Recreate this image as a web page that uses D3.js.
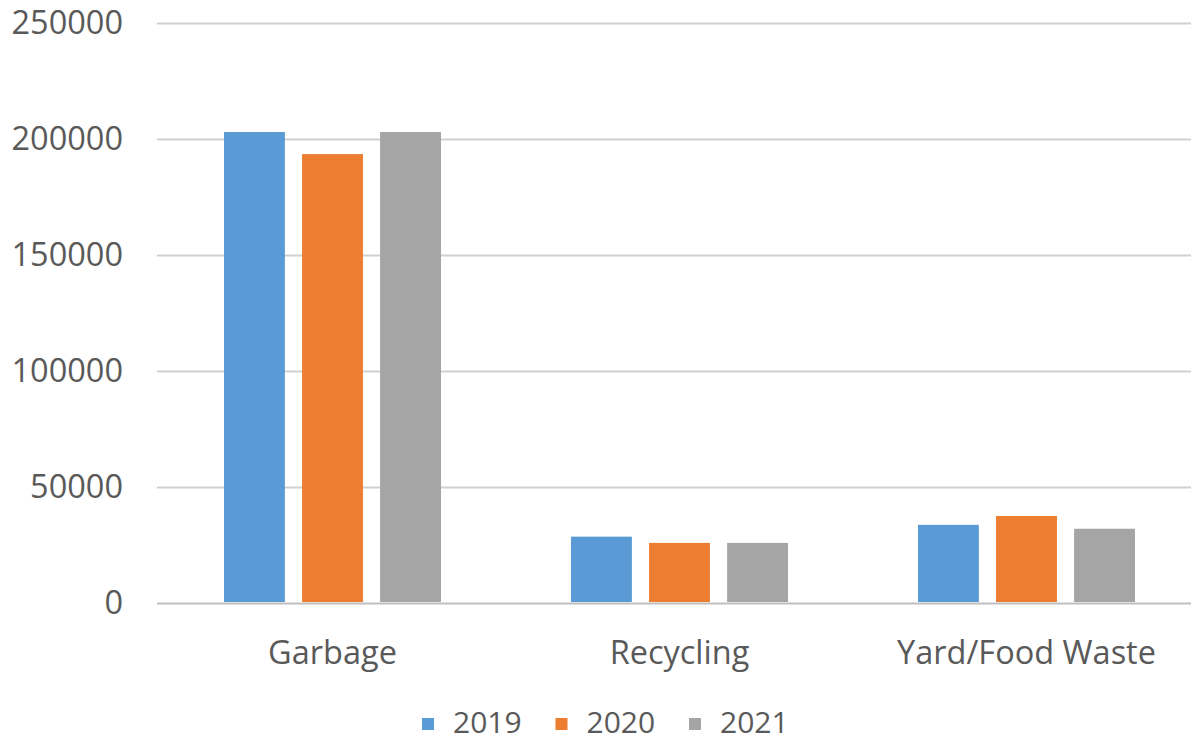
<!DOCTYPE html>
<html>
<head>
<meta charset="utf-8">
<script src="https://cdn.jsdelivr.net/npm/d3@7"></script>
<style>
  body { margin: 0; background: #fff; }
  text { font-family: "Open Sans", sans-serif; fill: #595959; }
</style>
</head>
<body>
<svg></svg>
<script>
const width = 1191,
      height = 743;

// Data
const categories = ["Garbage", "Recycling", "Yard/Food Waste"];
const years = ["2019", "2020", "2021"];
const values2019 = [203000, 28600, 33700];
const values2020 = [193500, 25900, 37500];
const values2021 = [203000, 25900, 32000];
const yTicks = [0, 50000, 100000, 150000, 200000, 250000];
const colors = ["#5B9BD5", "#ED7D31", "#A5A5A5"];

const series = [values2019, values2020, values2021];

const svg = d3.select("svg")
              .attr("width", width)
              .attr("height", height);

// Outer x scale (categories)
const x0 = d3.scaleBand()
             .domain(categories)
             .range([159, 1200])
             .paddingInner(0)
             .paddingOuter(0);

// Inner x scale (years inside a category)
const x1 = d3.scaleBand()
             .domain(years)
             .range([65, x0.bandwidth() - 65])
             .paddingInner(0.22)
             .paddingOuter(0);

const y = d3.scaleLinear()
            .domain([0, 250000])
            .range([603, 23]);

// Gridlines
svg.append("g")
   .attr("class", "grid")
   .attr("transform", "translate(157,0)")
   .call(d3.axisLeft(y).tickValues(yTicks).tickSize(-(width - 157)).tickFormat(""))
   .call(g => g.select(".domain").remove())
   .call(g => g.selectAll("line")
               .attr("stroke", d => d === 0 ? "#BFBFBF" : "#D0D0D0")
               .attr("stroke-width", 2));

// Y axis labels
svg.append("g")
   .attr("transform", "translate(123,0)")
   .call(d3.axisLeft(y).tickValues(yTicks).tickSize(0).tickPadding(0).tickFormat(d3.format("d")))
   .call(g => g.select(".domain").remove())
   .call(g => g.selectAll("text")
               .attr("font-size", 32.5)
               .style("font-family", "'Open Sans', sans-serif")
               .attr("fill", "#595959"));

// Bars
const groups = svg.append("g")
   .selectAll("g")
   .data(categories)
   .join("g")
   .attr("transform", d => "translate(" + x0(d) + ",0)");

groups.selectAll("rect")
   .data((d, i) => years.map((yr, j) => ({year: yr, value: series[j][i], color: colors[j]})))
   .join("rect")
   .attr("x", d => x1(d.year))
   .attr("width", x1.bandwidth())
   .attr("y", d => y(d.value))
   .attr("height", d => y(0) - y(d.value) - 1)
   .attr("fill", d => d.color);

// Category labels
svg.append("g")
   .attr("transform", "translate(0,603)")
   .call(d3.axisBottom(x0).tickSize(0).tickPadding(0))
   .call(g => g.select(".domain").remove())
   .call(g => g.selectAll("text")
               .attr("dy", null)
               .attr("y", 61)
               .attr("font-size", 32.5)
               .style("font-family", "'Open Sans', sans-serif")
               .attr("fill", "#595959"));

// Legend
const legend = svg.append("g")
                  .attr("transform", "translate(422,718)");

const item = legend.selectAll("g")
   .data(years)
   .join("g")
   .attr("transform", (d, i) => "translate(" + (i * 133.5) + ",0)");

item.append("rect")
    .attr("width", 12)
    .attr("height", 12)
    .attr("fill", (d, i) => colors[i]);

item.append("text")
    .attr("x", 31)
    .attr("y", 15)
    .attr("font-size", 30)
    .text(d => d);
</script>
</body>
</html>
